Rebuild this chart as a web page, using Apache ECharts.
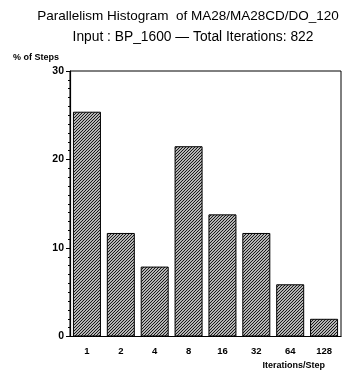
<!DOCTYPE html>
<html>
<head>
<meta charset="utf-8">
<script src="https://cdn.jsdelivr.net/npm/echarts@6/dist/echarts.min.js"></script>
<style>
  html, body { margin: 0; padding: 0; background: #fff; }
  #chart { width: 344px; height: 372px; }
</style>
</head>
<body>
<div id="chart"></div>
<script>
// Iterations per step (log2 buckets) and share of steps in each bucket
const categories = ['1', '2', '4', '8', '16', '32', '64', '128'];
const percentSteps = [25.4, 11.7, 7.9, 21.5, 13.8, 11.7, 5.9, 2.0];
const yTicks = [0, 10, 20, 30];

const titleLine1 = 'Parallelism Histogram  of MA28/MA28CD/DO_120';
const titleLine2 = 'Input : BP_1600 \u2014 Total Iterations: 822';

// Diagonal hatch fill used for the bars
function hatchPattern() {
  const c = document.createElement('canvas');
  c.width = 3; c.height = 3;
  const g = c.getContext('2d');
  g.fillStyle = '#ffffff';
  g.fillRect(0, 0, 3, 3);
  g.strokeStyle = '#111111';
  g.lineWidth = 1.2;
  g.beginPath();
  g.moveTo(-1, 4); g.lineTo(4, -1);
  g.moveTo(-1, 1); g.lineTo(1, -1);
  g.moveTo(2, 4); g.lineTo(4, 2);
  g.stroke();
  return c;
}

const chart = echarts.init(document.getElementById('chart'), null, { renderer: 'canvas' });
const font = 'Liberation Sans, Arial, Helvetica, sans-serif';

chart.setOption({
  animation: false,
  backgroundColor: '#ffffff',
  title: [
    { text: titleLine1, left: 183, top: 4, textAlign: 'center',
      textStyle: { fontFamily: font, fontSize: 13.5, fontWeight: 'normal', color: '#000' } },
    { text: titleLine2, left: 188, top: 25, textAlign: 'center',
      textStyle: { fontFamily: font, fontSize: 13.8, fontWeight: 'normal', color: '#000' } }
  ],
  grid: {
    left: 70, right: 3, top: 71, bottom: 35.5,
    show: true, borderColor: '#000', borderWidth: 1, backgroundColor: 'transparent'
  },
  xAxis: {
    type: 'category',
    data: categories,
    name: 'Iterations/Step',
    nameLocation: 'end',
    nameGap: 0,
    nameTextStyle: {
      fontFamily: font, fontSize: 9, fontWeight: 'bold', color: '#000',
      align: 'right', verticalAlign: 'top', padding: [25, 16, 0, 0]
    },
    axisLine: { show: true, lineStyle: { color: '#000', width: 1.2 } },
    axisTick: { show: false },
    axisLabel: {
      fontFamily: font, fontSize: 9.5, fontWeight: 'bold', color: '#000', margin: 10
    },
    splitLine: { show: false }
  },
  yAxis: {
    type: 'value',
    min: yTicks[0],
    max: yTicks[yTicks.length - 1],
    interval: 10,
    name: '% of Steps',
    nameLocation: 'end',
    nameGap: 9,
    nameTextStyle: {
      fontFamily: font, fontSize: 9, fontWeight: 'bold', color: '#000',
      align: 'left', padding: [0, 0, 0, -57]
    },
    axisLine: { show: true, lineStyle: { color: '#000', width: 1.2 } },
    axisTick: { show: true, length: 4, lineStyle: { color: '#000' } },
    minorTick: { show: true, splitNumber: 10, length: 2, lineStyle: { color: '#000' } },
    axisLabel: {
      fontFamily: font, fontSize: 10.5, fontWeight: 'bold', color: '#000', margin: 6
    },
    splitLine: { show: false }
  },
  series: [{
    type: 'bar',
    data: percentSteps,
    barWidth: 28,
    itemStyle: {
      color: { image: hatchPattern(), repeat: 'repeat' },
      borderColor: '#000',
      borderWidth: 1
    }
  }]
});
</script>
</body>
</html>
